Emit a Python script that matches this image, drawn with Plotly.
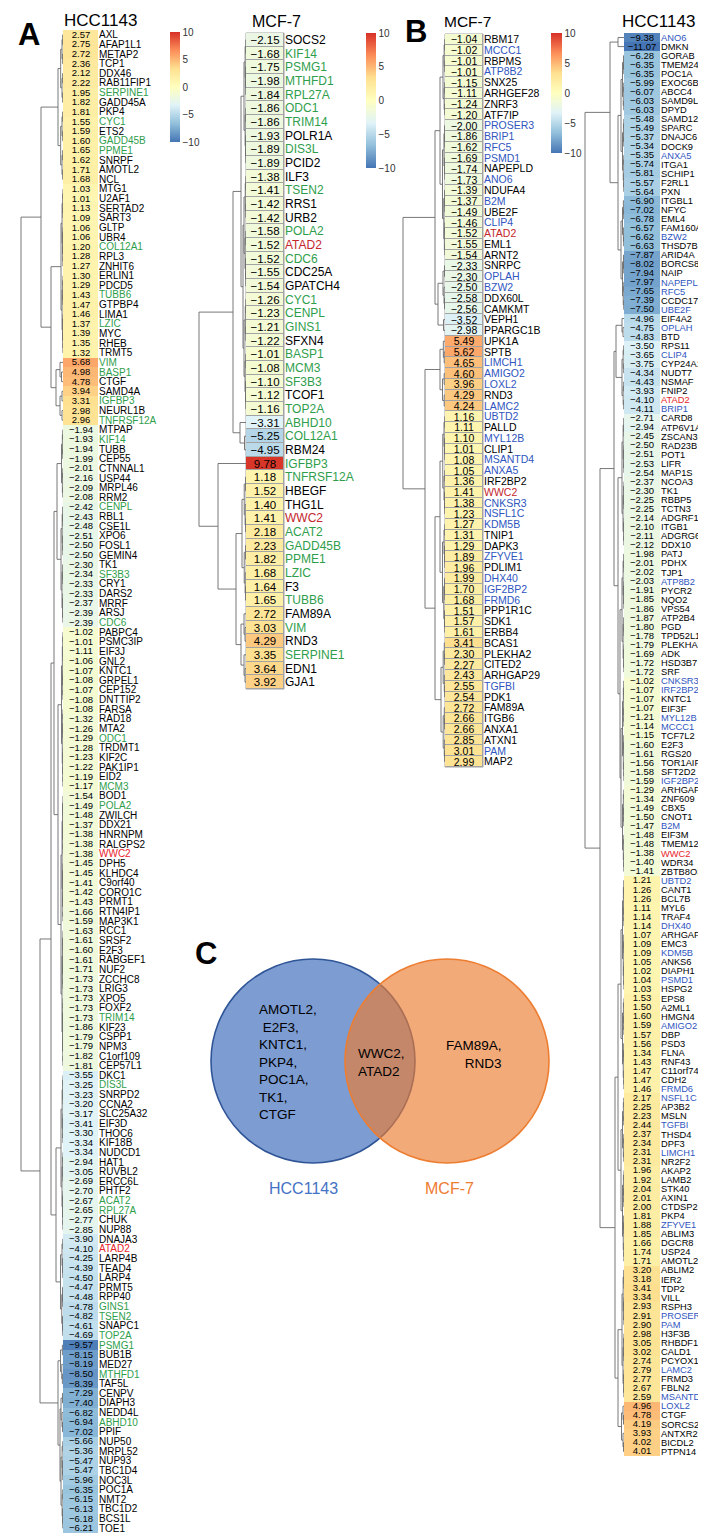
import plotly.graph_objects as go

W, H = 706, 1537
FONT = "Liberation Sans, Arial, Helvetica, sans-serif"

# ---------------- data ----------------
hcc_a_genes = ["AXL","AFAP1L1","METAP2","TCP1","DDX46","RAB11FIP1","SERPINE1","GADD45A","PKP4","CYC1","ETS2","GADD45B","PPME1","SNRPF","AMOTL2","NCL","MTG1","U2AF1","SERTAD2","SART3","GLTP","UBR4","COL12A1","RPL3","ZNHIT6","ERLIN1","PDCD5","TUBB6","GTPBP4","LIMA1","LZIC","MYC","RHEB","TRMT5","VIM","BASP1","CTGF","SAMD4A","IGFBP3","NEURL1B","TNFRSF12A","MTPAP","KIF14","TUBB","CEP55","CTNNAL1","USP44","MRPL46","RRM2","CENPL","RBL1","CSE1L","XPO6","FOSL1","GEMIN4","TK1","SF3B3","CRY1","DARS2","MRRF","ARSJ","CDC6","PABPC4","PSMC3IP","EIF3J","GNL2","KNTC1","GRPEL1","CEP152","DNTTIP2","FARSA","RAD18","MTA2","ODC1","TRDMT1","KIF2C","PAK1IP1","EID2","MCM3","BOD1","POLA2","ZWILCH","DDX21","HNRNPM","RALGPS2","WWC2","DPH5","KLHDC4","C9orf40","CORO1C","PRMT1","RTN4IP1","MAP3K1","RCC1","SRSF2","E2F3","RABGEF1","NUF2","ZCCHC8","LRIG3","XPO5","FOXF2","TRIM14","KIF23","CSPP1","NPM3","C1orf109","CEP57L1","DKC1","DIS3L","SNRPD2","CCNA2","SLC25A32","EIF3D","THOC6","KIF18B","NUDCD1","HAT1","RUVBL2","ERCC6L","PHTF2","ACAT2","RPL27A","CHUK","NUP88","DNAJA3","ATAD2","LARP4B","TEAD4","LARP4","PRMT5","RPP40","GINS1","TSEN2","SNAPC1","TOP2A","PSMG1","BUB1B","MED27","MTHFD1","TAF5L","CENPV","DIAPH3","NEDD4L","ABHD10","PPIF","NUP50","MRPL52","NUP93","TBC1D4","NOC3L","POC1A","NMT2","TBC1D2","BCS1L","TOE1"]
hcc_a_vals = [2.57,2.75,2.72,2.36,2.12,2.22,1.95,1.82,1.81,1.55,1.59,1.60,1.65,1.62,1.71,1.68,1.03,1.01,1.13,1.09,1.06,1.06,1.20,1.28,1.27,1.30,1.29,1.43,1.47,1.46,1.37,1.39,1.35,1.32,5.68,4.98,4.78,3.94,3.31,2.98,2.96,-1.94,-1.93,-1.94,-1.99,-2.01,-2.16,-2.09,-2.08,-2.42,-2.43,-2.48,-2.51,-2.50,-2.50,-2.30,-2.34,-2.33,-2.33,-2.37,-2.39,-2.39,-1.02,-1.01,-1.11,-1.06,-1.07,-1.08,-1.07,-1.08,-1.08,-1.32,-1.26,-1.29,-1.28,-1.23,-1.22,-1.19,-1.17,-1.54,-1.49,-1.48,-1.37,-1.38,-1.38,-1.38,-1.45,-1.45,-1.41,-1.42,-1.43,-1.66,-1.59,-1.63,-1.61,-1.60,-1.61,-1.71,-1.73,-1.73,-1.73,-1.73,-1.73,-1.86,-1.79,-1.79,-1.82,-1.81,-3.55,-3.25,-3.23,-3.20,-3.17,-3.41,-3.30,-3.34,-3.34,-2.94,-3.05,-2.69,-2.70,-2.67,-2.65,-2.77,-2.85,-3.90,-4.10,-4.25,-4.39,-4.50,-4.47,-4.48,-4.78,-4.82,-4.61,-4.69,-9.57,-8.15,-8.19,-8.50,-8.39,-7.29,-7.40,-6.82,-6.94,-7.02,-5.66,-5.36,-5.47,-5.47,-5.96,-6.35,-6.15,-6.13,-6.18,-6.21]
hcc_a_green = ["SERPINE1","CYC1","GADD45B","PPME1","COL12A1","TUBB6","LZIC","VIM","BASP1","IGFBP3","TNFRSF12A","KIF14","CENPL","SF3B3","CDC6","ODC1","MCM3","POLA2","TRIM14","DIS3L","ACAT2","RPL27A","GINS1","TSEN2","TOP2A","PSMG1","MTHFD1","ABHD10"]
hcc_a_red = ["WWC2","ATAD2"]

mcf_a_genes = ["SOCS2","KIF14","PSMG1","MTHFD1","RPL27A","ODC1","TRIM14","POLR1A","DIS3L","PCID2","ILF3","TSEN2","RRS1","URB2","POLA2","ATAD2","CDC6","CDC25A","GPATCH4","CYC1","CENPL","GINS1","SFXN4","BASP1","MCM3","SF3B3","TCOF1","TOP2A","ABHD10","COL12A1","RBM24","IGFBP3","TNFRSF12A","HBEGF","THG1L","WWC2","ACAT2","GADD45B","PPME1","LZIC","F3","TUBB6","FAM89A","VIM","RND3","SERPINE1","EDN1","GJA1"]
mcf_a_vals = [-2.15,-1.68,-1.75,-1.98,-1.84,-1.86,-1.86,-1.93,-1.89,-1.89,-1.38,-1.41,-1.42,-1.42,-1.58,-1.52,-1.52,-1.55,-1.54,-1.26,-1.23,-1.21,-1.22,-1.01,-1.08,-1.10,-1.12,-1.16,-3.31,-5.25,-4.95,9.78,1.18,1.52,1.40,1.41,2.18,2.23,1.82,1.68,1.64,1.65,2.72,3.03,4.29,3.35,3.64,3.92]
mcf_a_green = ["KIF14","PSMG1","MTHFD1","RPL27A","ODC1","TRIM14","DIS3L","TSEN2","POLA2","CDC6","CYC1","CENPL","GINS1","BASP1","MCM3","SF3B3","TOP2A","ABHD10","COL12A1","IGFBP3","TNFRSF12A","ACAT2","GADD45B","PPME1","LZIC","TUBB6","VIM","SERPINE1"]
mcf_a_red = ["ATAD2","WWC2"]

mcf_b_genes = ["RBM17","MCCC1","RBPMS","ATP8B2","SNX25","ARHGEF28","ZNRF3","ATF7IP","PROSER3","BRIP1","RFC5","PSMD1","NAPEPLD","ANO6","NDUFA4","B2M","UBE2F","CLIP4","ATAD2","EML1","ARNT2","SNRPC","OPLAH","BZW2","DDX60L","CAMKMT","VEPH1","PPARGC1B","UPK1A","SPTB","LIMCH1","AMIGO2","LOXL2","RND3","LAMC2","UBTD2","PALLD","MYL12B","CLIP1","MSANTD4","ANXA5","IRF2BP2","WWC2","CNKSR3","NSFL1C","KDM5B","TNIP1","DAPK3","ZFYVE1","PDLIM1","DHX40","IGF2BP2","FRMD6","PPP1R1C","SDK1","ERBB4","BCAS1","PLEKHA2","CITED2","ARHGAP29","TGFBI","PDK1","FAM89A","ITGB6","ANXA1","ATXN1","PAM","MAP2"]
mcf_b_vals = [-1.04,-1.02,-1.01,-1.01,-1.15,-1.11,-1.24,-1.20,-2.00,-1.86,-1.62,-1.69,-1.74,-1.73,-1.39,-1.37,-1.49,-1.46,-1.52,-1.55,-1.54,-2.33,-2.30,-2.50,-2.58,-2.56,-3.52,-2.98,5.49,5.62,4.65,4.60,3.96,4.29,4.24,1.16,1.11,1.10,1.01,1.08,1.05,1.36,1.41,1.38,1.23,1.27,1.31,1.29,1.89,1.96,1.99,1.70,1.68,1.51,1.57,1.61,3.41,2.30,2.27,2.43,2.55,2.54,2.72,2.66,2.66,2.85,3.01,2.99]
mcf_b_blue = ["MCCC1","ATP8B2","PROSER3","BRIP1","RFC5","PSMD1","ANO6","B2M","CLIP4","OPLAH","BZW2","LIMCH1","AMIGO2","LOXL2","LAMC2","UBTD2","MYL12B","MSANTD4","ANXA5","CNKSR3","NSFL1C","KDM5B","ZFYVE1","DHX40","IGF2BP2","FRMD6","TGFBI","PAM"]
mcf_b_red = ["ATAD2","WWC2"]

hcc_b_genes = ["ANO6","DMKN","GORAB","TMEM245","POC1A","EXOC6B","ABCC4","SAMD9L","DPYD","SAMD12","SPARC","DNAJC6","DOCK9","ANXA5","ITGA1","SCHIP1","F2RL1","PXN","ITGBL1","NFYC","EML4","FAM160A1","BZW2","THSD7B","ARID4A","BORCS8","NAIP","NAPEPLD","RFC5","CCDC171","UBE2F","EIF4A2","OPLAH","BTD","RPS11","CLIP4","CYP24A1","NUDT7","NSMAF","FNIP2","ATAD2","BRIP1","CARD8","ATP6V1A","ZSCAN31","RAD23B","POT1","LIFR","MAP1S","NCOA3","TK1","RBBP5","TCTN3","ADGRF1","ITGB1","ADGRG6","DDX10","PATJ","PDHX","TJP1","ATP8B2","PYCR2","NQO2","VPS54","ATP2B4","PGD","TPD52L1","PLEKHA7","ADK","HSD3B7","SRF","CNKSR3","IRF2BP2","KNTC1","EIF3F","MYL12B","MCCC1","TCF7L2","E2F3","RGS20","TOR1AIP2","SFT2D2","IGF2BP2","ARHGAP42","ZNF609","CBX5","CNOT1","B2M","EIF3M","TMEM120A","WWC2","WDR34","ZBTB8OS","UBTD2","CANT1","BCL7B","MYL6","TRAF4","DHX40","ARHGAP35","EMC3","KDM5B","ANKS6","DIAPH1","PSMD1","HSPG2","EPS8","A2ML1","HMGN4","AMIGO2","DBP","PSD3","FLNA","RNF43","C11orf74","CDH2","FRMD6","NSFL1C","AP3B2","MSLN","TGFBI","THSD4","DPF3","LIMCH1","NR2F2","AKAP2","LAMB2","STK40","AXIN1","CTDSP2","PKP4","ZFYVE1","ABLIM3","DGCR8","USP24","AMOTL2","ABLIM2","IER2","TDP2","VILL","RSPH3","PROSER3","PAM","H3F3B","RHBDF1","CALD1","PCYOX1","LAMC2","FRMD3","FBLN2","MSANTD4","LOXL2","CTGF","SORCS2","ANTXR2","BICDL2","PTPN14"]
hcc_b_vals = [-9.38,-11.07,-6.28,-6.35,-6.35,-5.99,-6.07,-6.03,-6.03,-5.48,-5.49,-5.37,-5.34,-5.35,-5.74,-5.81,-5.57,-5.64,-6.90,-7.02,-6.78,-6.57,-6.62,-6.63,-7.87,-8.02,-7.94,-7.97,-7.65,-7.39,-7.50,-4.96,-4.75,-4.83,-3.50,-3.65,-3.75,-4.34,-4.43,-3.93,-4.10,-4.11,-2.71,-2.94,-2.45,-2.50,-2.51,-2.53,-2.54,-2.37,-2.30,-2.25,-2.25,-2.14,-2.10,-2.11,-2.12,-1.98,-2.01,-2.02,-2.03,-1.91,-1.85,-1.86,-1.87,-1.80,-1.78,-1.79,-1.69,-1.72,-1.72,-1.02,-1.07,-1.07,-1.07,-1.21,-1.14,-1.15,-1.60,-1.61,-1.56,-1.58,-1.59,-1.29,-1.34,-1.49,-1.50,-1.47,-1.48,-1.48,-1.38,-1.40,-1.41,1.21,1.26,1.26,1.11,1.14,1.14,1.07,1.09,1.09,1.05,1.02,1.04,1.03,1.53,1.50,1.60,1.59,1.57,1.56,1.34,1.43,1.47,1.47,1.46,2.17,2.25,2.23,2.44,2.37,2.34,2.31,2.31,1.96,1.92,2.04,2.01,2.00,1.81,1.88,1.85,1.66,1.74,1.71,3.20,3.18,3.41,3.34,2.93,2.91,2.90,2.98,3.05,3.02,2.74,2.79,2.77,2.67,2.59,4.96,4.78,4.19,3.93,4.02,4.01]
hcc_b_blue = ["ANO6","ANXA5","BZW2","NAPEPLD","RFC5","UBE2F","OPLAH","CLIP4","BRIP1","ATP8B2","CNKSR3","IRF2BP2","MYL12B","MCCC1","IGF2BP2","B2M","UBTD2","DHX40","KDM5B","PSMD1","AMIGO2","FRMD6","NSFL1C","TGFBI","LIMCH1","ZFYVE1","PROSER3","PAM","LAMC2","MSANTD4","LOXL2"]
hcc_b_red = ["ATAD2","WWC2"]

# dendrogram structure: cluster sizes, within-cluster merge height, tree over clusters (height, left, right)
hcc_a_clusters = [16, 18, 3, 4, 8, 13, 17, 29, 17, 11, 5, 5, 10]
hcc_a_inner = [5, 2, 3, 3, 1.5, 2, 1.5, 2, 2, 2.5, 2.5, 2, 2]
hcc_a_tree = (42, (22, 0, (12, 1, (7, 2, 3))),
              (23, (12, (9, (6, 4, 5), (5, 6, 7)), (7, 8, 9)), (5, 10, (3, 11, 12))))
mcf_a_clusters = [10, 9, 9, 1, 2, 1, 10, 6]
mcf_a_inner = [2, 2, 2, 0, 1.5, 0, 4, 5]
mcf_a_tree = (47, (13, (5, 0, (3, 1, 2)), (6, 3, 4)), (28, 5, (10, 6, 7)))
mcf_b_clusters = [8, 13, 5, 2, 7, 21, 12]
mcf_b_inner = [2, 2.5, 2, 1.5, 5, 5, 4]
mcf_b_tree = (42, (10, (5, 0, 1), (7, 2, 3)), (20, 4, (10, 5, 6)))
hcc_b_clusters = [2, 7, 9, 6, 7, 3, 8, 15, 14, 12, 10, 13, 11, 8, 11, 15, 6]
hcc_b_inner = [6, 1.5, 1.5, 1.5, 1.5, 2, 2, 2, 2, 1.5, 1.5, 1.5, 1.5, 1.5, 1.5, 2, 2.5]
hcc_b_tree = (39, (14, 0, (6, (3, 1, 2), (3, 3, 4))),
              (24, (10, (8, 5, 6), (6, 7, (4, 8, (3, 9, 10)))),
               (9, (6, (3, 11, 12), (3, 13, 14)), (6, 15, 16))))

venn_hcc_only = ["AMOTL2", "E2F3", "KNTC1", "PKP4", "POC1A", "TK1", "CTGF"]
venn_both = ["WWC2", "ATAD2"]
venn_mcf_only = ["FAM89A", "RND3"]

for g, v in [(hcc_a_genes, hcc_a_vals), (mcf_a_genes, mcf_a_vals), (mcf_b_genes, mcf_b_vals), (hcc_b_genes, hcc_b_vals)]:
    assert len(g) == len(v), (len(g), len(v))
assert sum(hcc_a_clusters) == len(hcc_a_genes)
assert sum(mcf_a_clusters) == len(mcf_a_genes)
assert sum(mcf_b_clusters) == len(mcf_b_genes)
assert sum(hcc_b_clusters) == len(hcc_b_genes)

# ---------------- helpers ----------------
def fx(p):
    return p / W

def fy(p):
    return 1 - p / H

colorscale = [[0, "#4575B4"], [1/6, "#91BFDB"], [2/6, "#E0F3F8"], [3/6, "#FFFFBF"],
              [4/6, "#FEE090"], [5/6, "#FC8D59"], [1, "#D73027"]]

GREEN = "#2f9e4c"
BLUE = "#2f55c0"

def fmt(v):
    return f"{v:.2f}".replace("-", "\u2212")

def label(g, hl, hlcolor, red, redcolor):
    if g in red:
        return f'<span style="color:{redcolor}">{g}</span>'
    if g in hl:
        return f'<span style="color:{hlcolor}">{g}</span>'
    return g

def dendro(sizes, inner, tree):
    starts = []
    s = 0
    for n in sizes:
        starts.append(s)
        s += n
    xs, ys = [], []

    def join(a, b, h):
        xs.extend([a[1], h, h, b[1], None])
        ys.extend([a[0], a[0], b[0], b[0], None])

    def clus(st, n, N, Hc):
        if n == 1:
            return (float(st), 0.0)
        k = n // 2
        a = clus(st, k, N, Hc)
        b = clus(st + k, n - k, N, Hc)
        h = Hc * (n - 1) / (N - 1)
        join(a, b, h)
        return ((a[0] + b[0]) / 2, h)

    def build(node):
        if isinstance(node, int):
            return clus(starts[node], sizes[node], sizes[node], inner[node])
        h, l, r = node
        a = build(l)
        b = build(r)
        join(a, b, h)
        return ((a[0] + b[0]) / 2, h)

    build(tree)
    return xs, ys

fig = go.Figure()
layout_axes = {}
shapes = []

panels = [
    dict(genes=hcc_a_genes, vals=hcc_a_vals, hl=hcc_a_green, hlc=GREEN, red=hcc_a_red, redc="#e8232a",
         cl=hcc_a_clusters, inner=hcc_a_inner, tree=hcc_a_tree,
         hx=(55, 90), hy=(22, 1525), dx0=0, lf=10, cf=9.5, border=False,
         cb=dict(x=162, top=24, len=110, th=10)),
    dict(genes=mcf_a_genes, vals=mcf_a_vals, hl=mcf_a_green, hlc=GREEN, red=mcf_a_red, redc="#c4262c",
         cl=mcf_a_clusters, inner=mcf_a_inner, tree=mcf_a_tree,
         hx=(238, 276), hy=(25, 681), dx0=180, lf=12, cf=11.5, border=True,
         cb=dict(x=358, top=25, len=135, th=10)),
    dict(genes=mcf_b_genes, vals=mcf_b_vals, hl=mcf_b_blue, hlc=BLUE, red=mcf_b_red, redc="#c4262c",
         cl=mcf_b_clusters, inner=mcf_b_inner, tree=mcf_b_tree,
         hx=(437, 475), hy=(26, 759), dx0=385, lf=10.5, cf=10.5, border=True,
         cb=dict(x=543, top=25, len=120, th=11)),
    dict(genes=hcc_b_genes, vals=hcc_b_vals, hl=hcc_b_blue, hlc=BLUE, red=hcc_b_red, redc="#e8232a",
         cl=hcc_b_clusters, inner=hcc_b_inner, tree=hcc_b_tree,
         hx=(616, 652), hy=(25, 1448), dx0=565, lf=9.3, cf=9.5, border=False,
         cb=None),
]

for i, p in enumerate(panels):
    n = len(p["genes"])
    hx_id = 2 * i + 1
    dx_id = 2 * i + 2
    hxa, hya = f"x{hx_id}", f"y{hx_id}"
    dxa, dya = f"x{dx_id}", f"y{dx_id}"
    ydom = [fy(p["hy"][1]), fy(p["hy"][0])]
    yrange = [n - 0.5, -0.5]

    cb = None
    if p["cb"]:
        c = p["cb"]
        cb = dict(x=fx(c["x"]), xanchor="left", y=fy(c["top"]), yanchor="top",
                  len=c["len"], lenmode="pixels", thickness=c["th"], thicknessmode="pixels",
                  outlinewidth=0, xpad=0, ypad=0, ticks="",
                  tickvals=[10, 5, 0, -5, -10], ticktext=["10", "5", "0", "\u22125", "\u221210"],
                  tickfont=dict(size=10, color="#333333", family=FONT))
    fig.add_trace(go.Heatmap(
        z=[[v] for v in p["vals"]], x=[0], y=list(range(n)),
        text=[[fmt(v)] for v in p["vals"]], texttemplate="%{text}",
        textfont=dict(size=p["cf"], color="black", family=FONT),
        colorscale=colorscale, zmin=-10, zmax=10,
        showscale=cb is not None, colorbar=cb,
        xgap=1 if p["border"] else 0, ygap=1 if p["border"] else 0,
        xaxis=hxa, yaxis=hya, hoverinfo="skip"))

    xs, ys = dendro(p["cl"], p["inner"], p["tree"])
    dw = p["hx"][0] - p["dx0"]
    fig.add_trace(go.Scatter(x=xs, y=ys, mode="lines", line=dict(color="#6a6a6a", width=0.9),
                             xaxis=dxa, yaxis=dya, hoverinfo="skip", showlegend=False))

    ticktext = [label(g, p["hl"], p["hlc"], p["red"], p["redc"]) for g in p["genes"]]
    layout_axes[f"xaxis{hx_id}"] = dict(domain=[fx(p["hx"][0]), fx(p["hx"][1])], range=[-0.5, 0.5],
                                        visible=False, anchor=hya)
    layout_axes[f"yaxis{hx_id}"] = dict(domain=ydom, range=yrange, anchor=hxa, side="right",
                                        tickmode="array", tickvals=list(range(n)), ticktext=ticktext,
                                        ticks="", showgrid=False, zeroline=False, showline=False,
                                        tickfont=dict(size=p["lf"], color="black", family=FONT),
                                        automargin=False)
    layout_axes[f"xaxis{dx_id}"] = dict(domain=[fx(p["dx0"]), fx(p["hx"][0])], range=[dw, 0],
                                        visible=False, anchor=dya)
    layout_axes[f"yaxis{dx_id}"] = dict(domain=ydom, range=yrange, visible=False, anchor=dxa)

    if p["border"]:
        shapes.append(dict(type="rect", xref=f"{hxa} domain", yref=f"{hya} domain",
                           x0=0, x1=1, y0=0, y1=1, fillcolor="#a3a3a3",
                           line=dict(color="#a3a3a3", width=1), layer="below"))

# ---------------- Venn (panel C) ----------------
def circle(cx, cy, r, fill, edge):
    return dict(type="circle", xref="paper", yref="paper",
                x0=fx(cx - r), x1=fx(cx + r), y0=fy(cy + r), y1=fy(cy - r),
                fillcolor=fill, line=dict(color=edge, width=1.6), layer="above")

shapes.append(circle(305, 1053, 102, "rgb(124,156,210)", "#2f5597"))
shapes.append(circle(439, 1053, 102, "rgba(237,125,49,0.65)", "#ed7d31"))

annotations = []

def ann(text, x, y, size, color="black", bold=False, xanchor="center", yanchor="middle", align="center"):
    annotations.append(dict(text=f"<b>{text}</b>" if bold else text, x=fx(x), y=fy(y),
                            xref="paper", yref="paper", showarrow=False, xanchor=xanchor,
                            yanchor=yanchor, align=align,
                            font=dict(size=size, color=color, family=FONT)))

left_lines = [g + "," for g in venn_hcc_only[:-1]] + [venn_hcc_only[-1]]
left_lines[1] = "\u00a0" + left_lines[1]
ann("<br>".join(left_lines), 249, 992, 13.5, xanchor="left", yanchor="top", align="left")
ann(venn_both[0] + ",<br>" + venn_both[1], 348, 1036, 13.5, xanchor="left", yanchor="top", align="left")
ann(venn_mcf_only[0] + ",<br>" + "\u00a0" * 5 + venn_mcf_only[1], 436, 1028, 13.5,
    xanchor="left", yanchor="top", align="left")
ann("HCC1143", 295, 1180, 16, color="#4472c4")
ann("MCF-7", 442, 1180, 16, color="#ed7d31")

# titles & panel letters
ann("HCC1143", 92, 12, 17)
ann("MCF-7", 268, 13, 16)
ann("MCF-7", 460, 13, 15.5)
ann("HCC1143", 650, 13, 17)
ann("A", 21, 26, 31, bold=True)
ann("B", 408, 24, 31, bold=True)
ann("C", 198, 945, 31, bold=True)

fig.update_layout(width=W, height=H, margin=dict(l=0, r=0, t=0, b=0, pad=0, autoexpand=False),
                  paper_bgcolor="white", plot_bgcolor="white", showlegend=False,
                  font=dict(family=FONT), shapes=shapes, annotations=annotations, **layout_axes)

fig.write_html("out.html")
